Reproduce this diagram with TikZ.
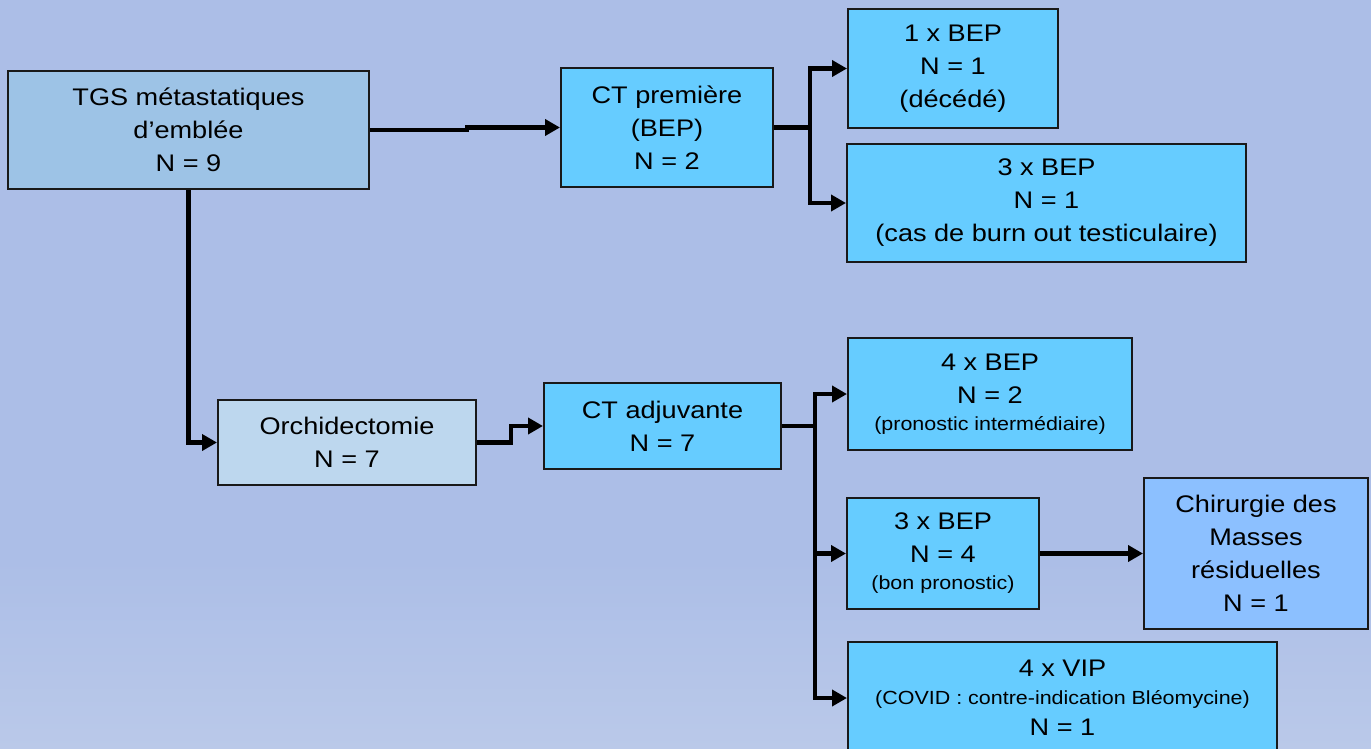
\documentclass[tikz,border=0pt]{standalone}
\usepackage{fontspec}
\setmainfont{Liberation Sans}[FakeStretch=1.13]
\usetikzlibrary{arrows.meta}

\definecolor{bgtop}{RGB}{172,190,231}
\definecolor{bgbot}{RGB}{186,201,233}
\definecolor{edge}{RGB}{25,25,25}
\definecolor{tgsfill}{RGB}{157,195,230}
\definecolor{ctfill}{RGB}{102,204,255}
\definecolor{orchfill}{RGB}{189,215,238}
\definecolor{chirfill}{RGB}{140,192,255}

\tikzset{
  box/.style={draw=edge, line width=2pt, inner sep=0pt, align=center,
    font=\fontsize{24}{33}\selectfont},
  ctbox/.style={box, fill=ctfill},
  wire/.style={line width=4.2pt, line join=miter, draw=black},
  conn/.style={wire, -{Triangle[length=15pt,width=16pt]}},
}
\newcommand{\smallline}[1]{{\fontsize{19}{24}\selectfont #1}}

\begin{document}
\begin{tikzpicture}[x=1pt,y=-1pt]
  \useasboundingbox (0,0) rectangle (1371,749);
  \clip (0,0) rectangle (1371,749);
  % background
  \fill[bgtop] (0,0) rectangle (1371,560);
  \shade[top color=bgtop, bottom color=bgbot] (0,559.5) rectangle (1371,749);

  % boxes
  \node[box, fill=tgsfill, minimum width=361pt, minimum height=118pt] (tgs) at (188.5,130)
    {TGS métastatiques\\d’emblée\\N = 9};
  \node[ctbox, minimum width=212pt, minimum height=119pt] (ct1) at (667,127.5)
    {CT première\\(BEP)\\N = 2};
  \node[ctbox, minimum width=210pt, minimum height=119pt] (bep1) at (953,68.5)
    {1 x BEP\\N = 1\\(décédé)};
  \node[ctbox, minimum width=399pt, minimum height=118pt] (bep3a) at (1046.5,203)
    {3 x BEP\\N = 1\\(cas de burn out testiculaire)};
  \node[box, fill=orchfill, minimum width=258pt, minimum height=85pt] (orch) at (347,442.5)
    {Orchidectomie\\N = 7};
  \node[ctbox, minimum width=237pt, minimum height=86pt] (ct2) at (662.5,426)
    {CT adjuvante\\N = 7};
  \node[ctbox, minimum width=284pt, minimum height=112pt] (bep4) at (990,394)
    {4 x BEP\\N = 2\\[-6pt]\smallline{(pronostic intermédiaire)}};
  \node[ctbox, minimum width=192pt, minimum height=111pt] (bep3b) at (943,553.5)
    {3 x BEP\\N = 4\\[-6pt]\smallline{(bon pronostic)}};
  \node[box, fill=chirfill, minimum width=224pt, minimum height=151pt] (chir) at (1256,553.5)
    {Chirurgie des\\Masses\\résiduelles\\N = 1};
  \node[ctbox, minimum width=429pt, minimum height=112pt] (vip) at (1062.5,698)
    {4 x VIP\\[-5pt]\smallline{(COVID : contre-indication Bléomycine)}\\[-2pt]N = 1};

  % connectors
  \draw[conn] (tgs.east) -- ++(97,0) |- (ct1.west);
  \coordinate (busA) at ([xshift=36pt]ct1.east);
  \draw[wire] (ct1.east) -- (busA);
  \draw[conn] (busA) |- (bep1.west);
  \draw[conn] (busA) |- (bep3a.west);

  \draw[conn] (tgs.south) |- (orch.west);
  \draw[conn] (orch.east) -- ++(34,0) |- (ct2.west);

  \coordinate (busB) at ([xshift=33pt]ct2.east);
  \draw[wire] (ct2.east) -- (busB);
  \draw[conn] (busB) |- (bep4.west);
  \draw[conn] (busB) |- (bep3b.west);
  \draw[conn] (busB) |- (vip.west);

  \draw[conn] (bep3b.east) -- (chir.west);
\end{tikzpicture}
\end{document}
